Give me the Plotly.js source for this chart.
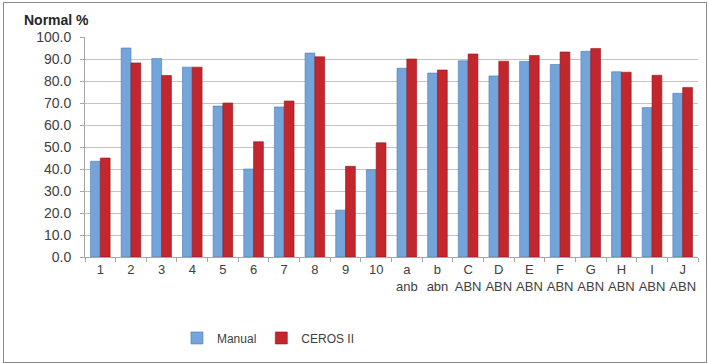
<!DOCTYPE html>
<html><head><meta charset="utf-8">
<script src="https://cdn.plot.ly/plotly-3.0.1.min.js"></script>
<style>
html,body{margin:0;padding:0;background:#fff;width:709px;height:363px;overflow:hidden;}
#chart{position:absolute;left:3px;top:2px;width:702px;height:359px;border:1px solid #8a8a8a;}
</style></head>
<body><div id="chart"></div>
<script>
const categories = ["1","2","3","4","5","6","7","8","9","10","a<br>anb","b<br>abn","C<br>ABN","D<br>ABN","E<br>ABN","F<br>ABN","G<br>ABN","H<br>ABN","I<br>ABN","J<br>ABN"];
const manual = [43.5,95.0,90.2,86.3,68.6,40.0,68.2,92.7,21.3,39.7,85.8,83.6,89.2,82.3,88.9,87.5,93.5,84.2,67.9,74.4];
const ceros  = [45.0,88.2,82.5,86.3,70.0,52.4,70.9,91.0,41.2,51.9,90.0,85.0,92.3,89.0,91.6,93.2,94.8,84.0,82.6,77.0];
const seriesNames = ["Manual","CEROS II"];
const yTitle = "Normal %";

const font = "Liberation Sans, Arial, sans-serif";
const data = [
  {type:"bar", x:categories, y:manual, name:seriesNames[0],
   marker:{color:"#74a5da", line:{color:"#4a78b0", width:0.6}}},
  {type:"bar", x:categories, y:ceros, name:seriesNames[1],
   marker:{color:"#c3262c", line:{color:"#8e1a1e", width:0.6}}}
];
const layout = {
  width:702, height:359,
  margin:{l:81, r:8, t:34, b:105},
  paper_bgcolor:"#fff", plot_bgcolor:"#fff",
  barmode:"group", bargap:0.36, bargroupgap:0,
  font:{family:font, size:13, color:"#404040"},
  showlegend:true,
  legend:{orientation:"h", x:0.15, xanchor:"left", y:-0.368, yanchor:"middle",
          font:{family:font, size:12, color:"#404040"}, itemwidth:30, tracegroupgap:0},
  xaxis:{type:"category", showgrid:false, showline:true, linecolor:"#a6a6a6", linewidth:1,
         ticks:"outside", tickson:"boundaries", ticklen:4, tickcolor:"#a6a6a6", tickangle:0,
         tickfont:{family:font, size:13, color:"#404040"}, fixedrange:true},
  yaxis:{range:[0,100], dtick:10, tickformat:".1f", showgrid:true, gridcolor:"#c4c4c4", gridwidth:1,
         showline:true, linecolor:"#a6a6a6", ticks:"outside", ticklen:4, tickcolor:"#a6a6a6",
         ticklabelstandoff:6,
         zeroline:false, tickfont:{family:font, size:14, color:"#404040"}, fixedrange:true},
  annotations:[{text:"<b>"+yTitle+"</b>", xref:"paper", yref:"paper", x:-0.103, y:1.077,
                xanchor:"left", yanchor:"middle", showarrow:false,
                font:{family:font, size:14, color:"#262626"}}]
};
Plotly.newPlot("chart", data, layout, {displayModeBar:false, staticPlot:true});
</script></body></html>
